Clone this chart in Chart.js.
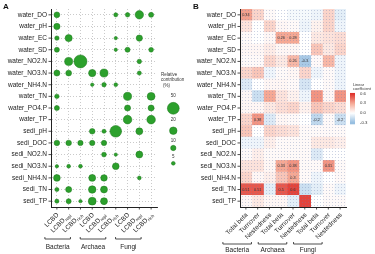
<!DOCTYPE html>
<html>
<head>
<meta charset="utf-8">
<script src="https://cdn.jsdelivr.net/npm/chart.js@4.4.1/dist/chart.umd.min.js"></script>
<style>
  body { margin: 0; background: #fff; width: 375px; height: 254px; overflow: hidden; position: relative; }
  canvas { position: absolute; top: 0; }
  #chartA { left: 0; }
  #chartB { left: 190px; }
</style>
</head>
<body>
<canvas id="chartA" width="190" height="254"></canvas>
<canvas id="chartB" width="185" height="254"></canvas>
<script>
const rows = ['water_DO', 'water_pH', 'water_EC', 'water_SD', 'water_NO2.N', 'water_NO3.N', 'water_NH4.N',
  'water_TN', 'water_PO4.P', 'water_TP', 'sedi_pH', 'sedi_DOC', 'sedi_NO2.N', 'sedi_NO3.N', 'sedi_NH4.N',
  'sedi_TN', 'sedi_TP'];
const groups = ['Bacteria', 'Archaea', 'Fungi'];
const lcbdSubs = ['', 'repl', 'rich'];
const betaParts = ['Total beta', 'Turnover', 'Nestedness'];

// panel A: relative contribution (%), one array per column (0 = no dot)
const bacLCBD = [12, 14, 7, 9, 0, 13, 0, 7, 9, 0, 0, 11, 0, 4, 16, 6, 6];
const bacRepl = [0, 0, 18, 0, 23, 12, 0, 0, 0, 0, 0, 11, 0, 5, 0, 13, 9];
const bacRich = [0, 0, 0, 0, 60, 0, 0, 0, 0, 0, 0, 10, 0, 5, 0, 0, 4];
const arcLCBD = [0, 0, 0, 0, 0, 19, 4, 0, 0, 0, 11, 10, 0, 0, 17, 20, 22];
const arcRepl = [0, 0, 0, 0, 0, 23, 7, 0, 0, 0, 6, 10, 8, 0, 15, 17, 17];
const arcRich = [6, 0, 4, 4, 0, 0, 5, 0, 0, 0, 48, 0, 4, 16, 0, 0, 0];
const funLCBD = [7, 0, 0, 9, 0, 0, 0, 23, 13, 26, 0, 0, 0, 0, 0, 0, 0];
const funRepl = [25, 0, 14, 0, 7, 6, 0, 0, 0, 0, 17, 0, 17, 0, 5, 0, 0];
const funRich = [9, 0, 0, 8, 0, 0, 0, 22, 13, 26, 0, 0, 0, 0, 0, 0, 0];
const sizeLegend = [50, 20, 10, 5];

// panel B: linear coefficients, one array per column
const bacTotal = [0.32, 0.1, 0.02, 0.03, 0.02, 0.15, -0.1, 0.03, 0.03, 0.15, 0.2, -0.05, 0.02, 0.1, 0.15, 0.5, 0.03];
const bacTurn = [0.15, 0, 0, 0.03, 0.02, 0.2, 0, -0.15, 0.03, 0.35, 0, -0.05, 0.06, 0.1, 0.03, 0.5, 0.08];
const bacNest = [0.02, 0.15, 0.03, 0.07, 0.15, -0.05, 0.03, 0.3, 0.08, -0.1, 0.15, 0.06, 0.02, 0.03, 0.06, -0.08, 0.03];
const arcTotal = [0, 0.03, 0.3, 0.03, 0.08, 0.02, 0.03, 0.1, 0.12, 0.03, 0.12, 0.02, 0.02, 0.3, 0.2, 0.5, 0.03];
const arcTurn = [-0.03, 0.02, 0.3, 0.03, 0.25, 0.03, 0.02, 0.05, 0.15, 0.02, 0.1, 0.02, 0.02, 0.35, 0.3, 0.55, -0.08];
const arcNest = [-0.03, -0.05, 0, 0, -0.25, 0.15, -0.12, -0.05, 0.05, 0, 0.02, 0.02, 0.02, 0.02, 0.02, -0.15, 0.55];
const funTotal = [-0.05, 0.05, 0.08, 0.2, 0.02, -0.05, 0, 0.35, 0.2, -0.18, 0.02, 0.08, -0.1, 0.02, -0.05, -0.08, 0];
const funTurn = [0.15, 0.15, 0.1, 0.08, 0.25, 0.02, 0.02, 0.03, 0.15, 0.02, 0.02, 0.08, 0, 0.35, 0, 0.02, 0.02];
const funNest = [-0.08, -0.05, 0.12, 0.15, -0.05, -0.05, -0.05, 0.35, 0.12, -0.15, 0.02, 0.06, 0, 0.02, 0.02, -0.05, 0.02];
const coefTicks = [0.6, 0.3, 0.0, -0.3];
// printed cells: [row, column, text]
const cellNotes = [[0, 0, '0.34'], [2, 3, '0.26'], [2, 4, '0.28'], [4, 4, '0.26'], [4, 5, '-0.3'],
  [9, 1, '0.38'], [9, 6, '-0.2'], [9, 8, '-0.2'], [13, 3, '0.33'], [13, 4, '0.38'], [13, 7, '0.31'],
  [14, 4, '0.3'], [15, 0, '0.51'], [15, 1, '0.51'], [15, 3, '0.5'], [15, 4, '0.6']];

const contribCols = [bacLCBD, bacRepl, bacRich, arcLCBD, arcRepl, arcRich, funLCBD, funRepl, funRich];
const coefCols = [bacTotal, bacTurn, bacNest, arcTotal, arcTurn, arcNest, funTotal, funTurn, funNest];
const colKeys = contribCols.map((c, i) => groups[Math.floor(i / 3)] + ' ' + i);

const FONT = '"Liberation Sans", Arial, sans-serif';
const rad = v => 0.84 * Math.sqrt(v);

function lerp(a, b, t) { return a.map((v, i) => Math.round(v + (b[i] - v) * t)); }
function coefColor(v) {
  let c;
  if (v >= 0.3) c = lerp([245, 168, 148], [222, 48, 42], Math.min(1, (v - 0.3) / 0.3));
  else if (v >= 0) c = lerp([255, 255, 255], [245, 168, 148], v / 0.3);
  else c = lerp([255, 255, 255], [150, 190, 224], Math.min(1, -v / 0.3));
  return 'rgb(' + c.join(',') + ')';
}

function drawBrackets(ctx, xs, y0, yText) {
  ctx.strokeStyle = '#222';
  ctx.lineWidth = 0.8;
  ctx.fillStyle = '#222';
  ctx.font = '6.5px ' + FONT;
  ctx.textAlign = 'center';
  ctx.textBaseline = 'middle';
  xs.forEach(([a, b], g) => {
    ctx.beginPath();
    ctx.moveTo(a, y0 - 2); ctx.lineTo(a, y0); ctx.lineTo(b, y0); ctx.lineTo(b, y0 - 2);
    ctx.stroke();
    ctx.fillText(groups[g], (a + b) / 2, yText);
  });
}

function drawTickMarks(ctx, ca, xs, ys) {
  ctx.strokeStyle = '#222';
  ctx.lineWidth = 0.8;
  ctx.beginPath();
  xs.forEach(px => { ctx.moveTo(px, ca.bottom); ctx.lineTo(px, ca.bottom + 2.5); });
  ys.forEach(py => { ctx.moveTo(ca.left - 2.5, py); ctx.lineTo(ca.left, py); });
  ctx.stroke();
}

const panelA = {
  id: 'panelA',
  afterDraw(chart) {
    const { ctx, chartArea: ca, scales: { x, y } } = chart;
    ctx.save();
    const xs = x.ticks.map((t, i) => x.getPixelForTick(i));
    const ys = y.ticks.map((t, i) => y.getPixelForTick(i));
    drawTickMarks(ctx, ca, xs, ys);

    // rotated LCBD labels with subscripts
    ctx.fillStyle = '#222';
    xs.forEach((px, i) => {
      const sub = lcbdSubs[i % 3];
      ctx.save();
      ctx.translate(px + 1, ca.bottom + 7);
      ctx.rotate(-Math.PI / 4);
      ctx.textAlign = 'right';
      ctx.textBaseline = 'middle';
      let sw = 0;
      if (sub) {
        ctx.font = '4.5px ' + FONT;
        sw = ctx.measureText(sub).width + 0.3;
        ctx.fillText(sub, 0, 2);
      }
      ctx.font = '6.5px ' + FONT;
      ctx.fillText('LCBD', -sw, 0);
      ctx.restore();
    });

    drawBrackets(ctx, [0, 1, 2].map(g => [xs[g * 3] - 12, xs[g * 3 + 2] - 10]), 239, 247.5);

    // size legend
    ctx.fillStyle = '#333';
    ctx.font = '4.5px ' + FONT;
    ctx.textAlign = 'left';
    ctx.textBaseline = 'middle';
    ctx.fillText('Relative', 161, 75);
    ctx.fillText('contribution', 161, 80);
    ctx.fillText('(%)', 163, 86);
    const lx = 173.3;
    const ly = [[95.7, 108.3], [120, 130.7], [141, 148], [156.7, 163.3]];
    sizeLegend.forEach((v, i) => {
      ctx.fillStyle = '#333';
      ctx.textAlign = 'center';
      ctx.fillText(String(v), lx, ly[i][0]);
      ctx.beginPath();
      ctx.arc(lx, ly[i][1], rad(v), 0, Math.PI * 2);
      ctx.fillStyle = 'rgb(44,160,44)';
      ctx.fill();
      ctx.strokeStyle = 'rgb(28,118,28)';
      ctx.lineWidth = 0.5;
      ctx.stroke();
    });

    ctx.fillStyle = '#111';
    ctx.font = 'bold 8px ' + FONT;
    ctx.textAlign = 'left';
    ctx.fillText('A', 3, 7);
    ctx.restore();
  }
};

const dotTile = document.createElement('canvas');
dotTile.width = 3; dotTile.height = 3;
const tctx = dotTile.getContext('2d');
tctx.fillStyle = 'rgba(110,130,175,0.35)';
tctx.fillRect(1, 1, 1, 1);

const panelB = {
  id: 'panelB',
  afterDatasetsDraw(chart) {
    const { ctx, chartArea: ca } = chart;
    ctx.save();
    ctx.fillStyle = ctx.createPattern(dotTile, 'repeat');
    ctx.fillRect(ca.left, ca.top, ca.right - ca.left, ca.bottom - ca.top);
    ctx.fillStyle = '#333';
    ctx.font = '3.8px ' + FONT;
    ctx.textAlign = 'center';
    ctx.textBaseline = 'middle';
    cellNotes.forEach(([r, c, t]) => {
      const p = chart.getDatasetMeta(c).data[r].getCenterPoint();
      ctx.fillText(t, p.x, p.y);
    });
    ctx.restore();
  },
  afterDraw(chart) {
    const { ctx, chartArea: ca, scales: { x, y } } = chart;
    ctx.save();
    const xs = coefCols.map((c, j) => x.getPixelForValue(j + 0.5));
    const ys = y.ticks.map((t, i) => y.getPixelForTick(i));
    drawTickMarks(ctx, ca, xs, ys);

    ctx.fillStyle = '#222';
    ctx.font = '6.5px ' + FONT;
    xs.forEach((px, j) => {
      ctx.save();
      ctx.translate(px + 1, ca.bottom + 7);
      ctx.rotate(-Math.PI / 4);
      ctx.textAlign = 'right';
      ctx.textBaseline = 'middle';
      ctx.fillText(betaParts[j % 3], 0, 0);
      ctx.restore();
    });

    drawBrackets(ctx, [0, 1, 2].map(g => [xs[g * 3] - 23, xs[g * 3 + 2] - 18]), 244, 250);

    // colour bar legend
    const bx = 160, bw = 5;
    const yOf = v => 113 - v / 0.3 * 9.7;
    const top = yOf(0.62), bot = yOf(-0.35);
    const grad = ctx.createLinearGradient(0, top, 0, bot);
    for (let k = 0; k <= 20; k++) {
      const v = 0.62 - k * (0.97 / 20);
      grad.addColorStop(k / 20, coefColor(v));
    }
    ctx.fillStyle = grad;
    ctx.fillRect(bx, top, bw, bot - top);
    ctx.fillStyle = '#333';
    ctx.font = '4px ' + FONT;
    ctx.textAlign = 'left';
    ctx.textBaseline = 'middle';
    ctx.fillText('Linear', 163, 84.5);
    ctx.fillText('coefficient', 163, 88.8);
    ctx.font = '4.3px ' + FONT;
    coefTicks.forEach(v => ctx.fillText(v.toFixed(1), 170, yOf(v)));

    ctx.fillStyle = '#111';
    ctx.font = 'bold 8px ' + FONT;
    ctx.fillText('B', 3, 7);
    ctx.restore();
  }
};

const yTicks = { font: { family: FONT, size: 6.5 }, color: '#222', padding: 4 };

new Chart(document.getElementById('chartA'), {
  type: 'bubble',
  data: {
    datasets: [{
      data: contribCols.flatMap((col, j) => col.map((v, i) => ({ x: colKeys[j], y: rows[i], r: rad(v) }))
        .filter((p, i) => col[i] > 0)),
      backgroundColor: 'rgb(44,160,44)',
      borderColor: 'rgb(28,118,28)',
      borderWidth: 0.5,
      clip: false
    }]
  },
  options: {
    responsive: false,
    animation: false,
    layout: { padding: { top: 9, right: 33, left: 0, bottom: 0 } },
    plugins: { legend: { display: false }, tooltip: { enabled: false } },
    scales: {
      x: {
        type: 'category', labels: colKeys, offset: true,
        grid: { color: '#bdbdbd', lineWidth: 0.8, drawTicks: false },
        border: { color: '#222', width: 1, dash: [1, 2] },
        ticks: { display: false },
        afterFit: s => { s.height = 47; }
      },
      y: {
        type: 'category', labels: rows, offset: true,
        grid: { color: '#bdbdbd', lineWidth: 0.8, drawTicks: false },
        border: { color: '#222', width: 1, dash: [1, 2] },
        ticks: yTicks,
        afterFit: s => { s.width = 51; }
      }
    }
  },
  plugins: [panelA]
});

new Chart(document.getElementById('chartB'), {
  type: 'bar',
  data: {
    labels: rows,
    datasets: coefCols.map(col => ({
      data: col.map(() => 1),
      backgroundColor: col.map(coefColor),
      borderWidth: 0,
      barPercentage: 1,
      categoryPercentage: 1
    }))
  },
  options: {
    indexAxis: 'y',
    responsive: false,
    animation: false,
    layout: { padding: { top: 9, right: 29, left: 0, bottom: 0 } },
    plugins: { legend: { display: false }, tooltip: { enabled: false } },
    scales: {
      x: {
        type: 'linear', stacked: true, min: 0, max: 9,
        grid: { display: false, drawTicks: false },
        border: { color: '#222', width: 1, z: 1 },
        ticks: { display: false },
        afterFit: s => { s.height = 47; }
      },
      y: {
        type: 'category', stacked: true,
        grid: { display: false, drawTicks: false },
        border: { color: '#222', width: 1, z: 1 },
        ticks: yTicks,
        afterFit: s => { s.width = 50; }
      }
    }
  },
  plugins: [panelB]
});
</script>
</body>
</html>
